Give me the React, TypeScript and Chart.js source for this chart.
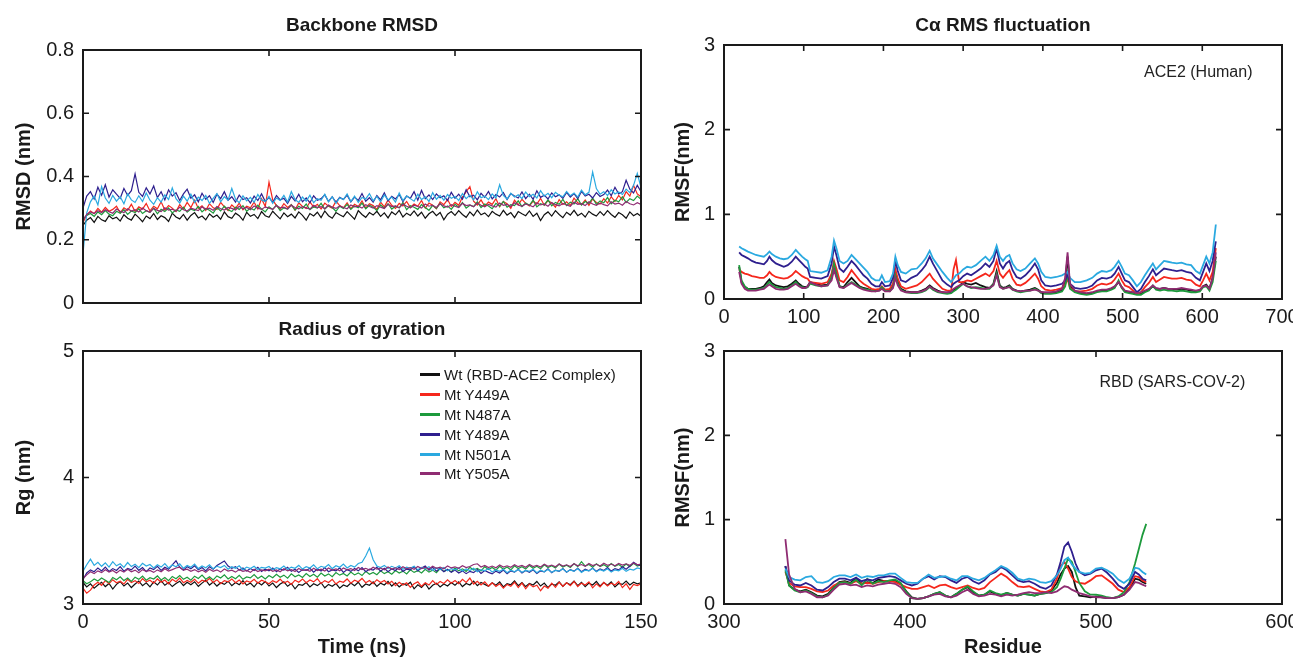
import React, { useEffect, useRef } from 'react';
import { Chart, registerables } from 'chart.js';

Chart.register(...registerables);

const FONT = "'Liberation Sans', Arial, Helvetica, sans-serif";
const INK = '#1a1a1a';

const SERIES_NAMES = ['Wt (RBD-ACE2 Complex)', 'Mt Y449A', 'Mt N487A', 'Mt Y489A', 'Mt N501A', 'Mt Y505A'];
const SERIES_COLORS = ['#111111', '#f5271c', '#1d9a3c', '#2e1f8e', '#2aa9e0', '#8f2c72'];

// ---------- Time axis (ns) ----------
const TIME_NS = [0,1,2,3,4,5,6,7,8,9,10,11,12,13,14,15,16,17,18,19,
20,21,22,23,24,25,26,27,28,29,30,31,32,33,34,35,36,37,38,39,
40,41,42,43,44,45,46,47,48,49,50,51,52,53,54,55,56,57,58,59,
60,61,62,63,64,65,66,67,68,69,70,71,72,73,74,75,76,77,78,79,
80,81,82,83,84,85,86,87,88,89,90,91,92,93,94,95,96,97,98,99,
100,101,102,103,104,105,106,107,108,109,110,111,112,113,114,115,116,117,118,119,
120,121,122,123,124,125,126,127,128,129,130,131,132,133,134,135,136,137,138,139,
140,141,142,143,144,145,146,147,148,149,150];

// ---------- Backbone RMSD (nm) ----------
const RMSD_WT = [0.245,0.262,0.270,0.255,0.274,0.263,0.258,0.276,0.266,0.271,
0.259,0.279,0.268,0.262,0.281,0.270,0.257,0.275,0.267,0.283,
0.264,0.276,0.270,0.258,0.284,0.272,0.266,0.280,0.262,0.277,
0.286,0.269,0.275,0.263,0.282,0.271,0.278,0.265,0.288,0.273,
0.268,0.284,0.276,0.262,0.287,0.274,0.280,0.267,0.289,0.276,
0.271,0.290,0.278,0.266,0.285,0.273,0.281,0.269,0.288,0.277,
0.262,0.283,0.275,0.287,0.270,0.291,0.276,0.268,0.286,0.279,
0.273,0.289,0.277,0.265,0.292,0.280,0.271,0.286,0.278,0.290,
0.274,0.285,0.269,0.288,0.279,0.293,0.272,0.284,0.277,0.291,
0.275,0.287,0.268,0.282,0.290,0.276,0.286,0.263,0.281,0.289,
0.277,0.292,0.280,0.271,0.288,0.276,0.294,0.279,0.285,0.273,
0.290,0.281,0.275,0.293,0.278,0.286,0.270,0.289,0.282,0.276,
0.291,0.274,0.284,0.261,0.279,0.288,0.275,0.292,0.280,0.270,
0.287,0.278,0.293,0.276,0.284,0.272,0.290,0.281,0.275,0.289,
0.277,0.292,0.280,0.271,0.286,0.279,0.268,0.288,0.276,0.283,
0.274];
const RMSD_Y449A = [0.255,0.278,0.291,0.283,0.299,0.287,0.302,0.290,0.296,0.306,
0.285,0.301,0.293,0.312,0.289,0.304,0.297,0.315,0.291,0.306,
0.298,0.320,0.294,0.308,0.300,0.289,0.311,0.297,0.318,0.302,
0.325,0.299,0.307,0.293,0.314,0.301,0.296,0.318,0.304,0.292,
0.310,0.299,0.316,0.295,0.306,0.301,0.319,0.297,0.330,0.305,
0.382,0.326,0.308,0.296,0.314,0.302,0.311,0.294,0.317,0.305,
0.299,0.320,0.303,0.312,0.297,0.316,0.306,0.300,0.322,0.308,
0.301,0.317,0.298,0.312,0.305,0.323,0.300,0.314,0.308,0.296,
0.319,0.304,0.326,0.309,0.299,0.315,0.307,0.321,0.302,0.313,
0.306,0.324,0.300,0.316,0.309,0.298,0.320,0.311,0.327,0.305,
0.318,0.309,0.335,0.352,0.368,0.322,0.310,0.326,0.306,0.319,
0.312,0.330,0.304,0.321,0.314,0.299,0.325,0.310,0.328,0.315,
0.307,0.322,0.313,0.331,0.309,0.324,0.316,0.303,0.327,0.312,
0.320,0.308,0.332,0.317,0.311,0.326,0.309,0.329,0.318,0.313,
0.330,0.316,0.336,0.321,0.340,0.326,0.352,0.338,0.372,0.345,
0.336];
const RMSD_N487A = [0.265,0.277,0.283,0.274,0.288,0.279,0.292,0.281,0.276,0.290,
0.284,0.295,0.280,0.291,0.286,0.298,0.283,0.292,0.287,0.300,
0.282,0.296,0.289,0.301,0.285,0.294,0.290,0.303,0.287,0.297,
0.292,0.305,0.288,0.299,0.293,0.284,0.302,0.291,0.306,0.295,
0.289,0.303,0.296,0.308,0.290,0.300,0.294,0.309,0.297,0.288,
0.304,0.296,0.310,0.292,0.301,0.297,0.311,0.294,0.306,0.299,
0.313,0.295,0.304,0.300,0.315,0.297,0.308,0.302,0.290,0.306,
0.299,0.312,0.296,0.307,0.301,0.316,0.298,0.309,0.303,0.292,
0.310,0.300,0.314,0.297,0.306,0.301,0.318,0.295,0.308,0.303,
0.296,0.311,0.302,0.293,0.309,0.299,0.315,0.301,0.307,0.296,
0.312,0.303,0.318,0.300,0.309,0.305,0.320,0.302,0.313,0.307,
0.298,0.315,0.306,0.321,0.303,0.311,0.308,0.323,0.305,0.316,
0.309,0.325,0.304,0.314,0.310,0.326,0.307,0.318,0.312,0.328,
0.308,0.319,0.313,0.330,0.310,0.321,0.315,0.332,0.312,0.323,
0.317,0.334,0.314,0.325,0.320,0.336,0.318,0.330,0.324,0.338,
0.328];
const RMSD_Y489A = [0.300,0.338,0.352,0.329,0.366,0.341,0.374,0.335,0.358,0.344,
0.331,0.362,0.340,0.355,0.408,0.350,0.337,0.364,0.345,0.370,
0.333,0.352,0.326,0.358,0.338,0.349,0.324,0.345,0.360,0.331,
0.342,0.320,0.347,0.328,0.339,0.318,0.344,0.330,0.352,0.325,
0.336,0.319,0.341,0.327,0.333,0.316,0.338,0.324,0.345,0.321,
0.334,0.318,0.340,0.326,0.331,0.315,0.337,0.323,0.344,0.320,
0.332,0.317,0.339,0.325,0.330,0.342,0.321,0.336,0.318,0.334,
0.327,0.341,0.320,0.335,0.324,0.346,0.322,0.333,0.319,0.340,
0.326,0.348,0.323,0.337,0.329,0.343,0.321,0.338,0.331,0.352,
0.325,0.356,0.330,0.342,0.327,0.345,0.333,0.339,0.324,0.350,
0.331,0.344,0.328,0.358,0.336,0.341,0.326,0.347,0.334,0.353,
0.329,0.343,0.335,0.349,0.327,0.346,0.338,0.332,0.351,0.330,
0.344,0.328,0.355,0.334,0.341,0.329,0.348,0.336,0.342,0.331,
0.350,0.335,0.346,0.330,0.353,0.338,0.344,0.332,0.349,0.337,
0.343,0.357,0.339,0.366,0.345,0.352,0.388,0.360,0.348,0.372,
0.352];
const RMSD_N501A = [0.155,0.285,0.320,0.338,0.310,0.368,0.332,0.315,0.340,0.322,
0.336,0.314,0.345,0.326,0.318,0.339,0.321,0.348,0.325,0.312,
0.333,0.319,0.342,0.327,0.364,0.330,0.316,0.338,0.322,0.344,
0.318,0.335,0.324,0.340,0.315,0.331,0.346,0.320,0.336,0.325,
0.362,0.328,0.317,0.339,0.323,0.334,0.318,0.343,0.326,0.321,
0.337,0.315,0.332,0.324,0.340,0.319,0.352,0.327,0.318,0.335,
0.322,0.341,0.317,0.330,0.325,0.344,0.320,0.336,0.315,0.333,
0.327,0.345,0.321,0.338,0.318,0.334,0.329,0.346,0.323,0.337,
0.320,0.342,0.326,0.335,0.319,0.348,0.324,0.339,0.330,0.322,
0.344,0.327,0.336,0.321,0.349,0.328,0.340,0.325,0.343,0.331,
0.337,0.324,0.346,0.330,0.341,0.326,0.352,0.333,0.338,0.327,
0.345,0.332,0.374,0.340,0.329,0.347,0.335,0.342,0.330,0.351,
0.336,0.344,0.332,0.355,0.338,0.347,0.333,0.350,0.341,0.336,
0.353,0.339,0.348,0.335,0.357,0.342,0.350,0.414,0.362,0.344,
0.352,0.340,0.358,0.345,0.351,0.343,0.360,0.349,0.372,0.410,
0.365];
const RMSD_Y505A = [0.262,0.280,0.288,0.283,0.292,0.286,0.295,0.289,0.284,0.297,
0.290,0.286,0.298,0.291,0.295,0.288,0.300,0.292,0.287,0.299,
0.293,0.289,0.301,0.294,0.297,0.290,0.303,0.295,0.291,0.300,
0.296,0.292,0.304,0.297,0.300,0.293,0.305,0.298,0.294,0.302,
0.299,0.294,0.306,0.298,0.302,0.295,0.307,0.300,0.296,0.304,
0.300,0.296,0.308,0.301,0.303,0.297,0.309,0.302,0.298,0.305,
0.301,0.297,0.309,0.302,0.305,0.298,0.310,0.303,0.299,0.307,
0.302,0.298,0.310,0.304,0.306,0.300,0.311,0.305,0.300,0.308,
0.303,0.299,0.312,0.305,0.307,0.301,0.313,0.306,0.301,0.309,
0.305,0.300,0.313,0.306,0.309,0.302,0.314,0.307,0.303,0.311,
0.306,0.302,0.315,0.308,0.310,0.304,0.316,0.309,0.304,0.312,
0.307,0.303,0.316,0.309,0.312,0.305,0.317,0.310,0.306,0.313,
0.309,0.304,0.317,0.310,0.313,0.306,0.318,0.311,0.307,0.315,
0.310,0.306,0.319,0.312,0.314,0.308,0.320,0.313,0.309,0.316,
0.311,0.307,0.320,0.313,0.316,0.309,0.321,0.314,0.310,0.317,
0.312];

// ---------- Radius of gyration (nm) ----------
const RG_WT = [3.170,3.135,3.160,3.125,3.150,3.172,3.138,3.162,3.118,3.155,
3.178,3.142,3.165,3.130,3.158,3.182,3.145,3.168,3.135,3.175,
3.150,3.185,3.148,3.170,3.138,3.162,3.180,3.146,3.172,3.152,
3.176,3.140,3.165,3.188,3.150,3.174,3.142,3.168,3.155,3.180,
3.145,3.170,3.152,3.184,3.148,3.166,3.135,3.172,3.150,3.178,
3.142,3.165,3.130,3.158,3.175,3.140,3.162,3.120,3.155,3.148,
3.170,3.135,3.160,3.145,3.168,3.128,3.155,3.140,3.162,3.125,
3.150,3.138,3.166,3.145,3.172,3.132,3.158,3.148,3.175,3.140,
3.165,3.150,3.178,3.142,3.168,3.135,3.160,3.148,3.172,3.120,
3.152,3.130,3.162,3.118,3.148,3.165,3.135,3.158,3.142,3.170,
3.148,3.175,3.138,3.162,3.150,3.180,3.145,3.170,3.155,3.140,
3.168,3.148,3.175,3.135,3.160,3.152,3.182,3.145,3.170,3.138,
3.162,3.150,3.178,3.142,3.165,3.130,3.158,3.148,3.175,3.140,
3.168,3.152,3.180,3.145,3.172,3.138,3.165,3.150,3.178,3.142,
3.170,3.148,3.175,3.135,3.162,3.155,3.182,3.150,3.172,3.160,
3.168];
const RG_Y449A = [3.125,3.085,3.110,3.150,3.172,3.148,3.185,3.160,3.192,3.168,
3.180,3.158,3.195,3.170,3.185,3.162,3.200,3.175,3.188,3.165,
3.198,3.172,3.190,3.160,3.195,3.176,3.205,3.168,3.186,3.172,
3.196,3.165,3.188,3.178,3.202,3.170,3.192,3.160,3.185,3.175,
3.198,3.168,3.190,3.158,3.182,3.172,3.195,3.165,3.188,3.176,
3.160,3.185,3.170,3.196,3.165,3.180,3.155,3.188,3.172,3.198,
3.168,3.190,3.175,3.200,3.162,3.185,3.170,3.195,3.158,3.180,
3.172,3.198,3.165,3.188,3.176,3.202,3.168,3.185,3.160,3.192,
3.170,3.186,3.158,3.180,3.145,3.172,3.150,3.168,3.132,3.160,
3.175,3.140,3.168,3.150,3.185,3.155,3.178,3.162,3.192,3.165,
3.185,3.160,3.195,3.170,3.205,3.158,3.180,3.150,3.175,3.142,
3.168,3.138,3.160,3.125,3.155,3.140,3.172,3.130,3.165,3.120,
3.158,3.135,3.148,3.105,3.142,3.125,3.165,3.132,3.172,3.140,
3.168,3.145,3.178,3.138,3.165,3.150,3.175,3.128,3.160,3.135,
3.170,3.142,3.165,3.150,3.178,3.130,3.160,3.115,3.155,3.145,
3.160];
const RG_N487A = [3.185,3.160,3.175,3.198,3.182,3.205,3.188,3.170,3.210,3.192,
3.215,3.185,3.205,3.178,3.212,3.195,3.220,3.188,3.208,3.198,
3.222,3.190,3.210,3.185,3.218,3.200,3.225,3.195,3.212,3.188,
3.220,3.202,3.228,3.196,3.215,3.190,3.222,3.205,3.230,3.198,
3.218,3.200,3.226,3.195,3.214,3.206,3.232,3.202,3.222,3.198,
3.225,3.208,3.235,3.212,3.228,3.204,3.238,3.215,3.230,3.210,
3.240,3.218,3.235,3.212,3.245,3.222,3.238,3.216,3.248,3.228,
3.242,3.222,3.252,3.230,3.246,3.225,3.258,3.235,3.250,3.232,
3.262,3.240,3.255,3.236,3.265,3.245,3.260,3.238,3.270,3.250,
3.264,3.245,3.275,3.252,3.268,3.248,3.280,3.258,3.272,3.255,
3.285,3.262,3.278,3.258,3.290,3.268,3.282,3.262,3.295,3.272,
3.288,3.268,3.298,3.275,3.292,3.270,3.302,3.280,3.295,3.276,
3.305,3.282,3.298,3.278,3.310,3.288,3.302,3.284,3.315,3.292,
3.306,3.288,3.320,3.295,3.335,3.300,3.312,3.290,3.318,3.296,
3.310,3.292,3.320,3.298,3.312,3.290,3.316,3.295,3.322,3.300,
3.310];
const RG_Y489A = [3.195,3.245,3.270,3.255,3.285,3.262,3.292,3.258,3.280,3.265,
3.295,3.260,3.282,3.270,3.300,3.266,3.288,3.255,3.285,3.272,
3.298,3.265,3.290,3.275,3.310,3.342,3.290,3.268,3.295,3.278,
3.302,3.270,3.288,3.262,3.295,3.275,3.305,3.322,3.340,3.300,
3.282,3.295,3.268,3.285,3.260,3.280,3.265,3.290,3.258,3.276,
3.262,3.285,3.255,3.278,3.268,3.290,3.258,3.275,3.250,3.272,
3.265,3.282,3.252,3.276,3.260,3.288,3.255,3.270,3.262,3.285,
3.250,3.272,3.258,3.280,3.262,3.288,3.255,3.275,3.268,3.290,
3.260,3.282,3.255,3.278,3.265,3.292,3.258,3.276,3.270,3.295,
3.262,3.285,3.300,3.268,3.290,3.260,3.282,3.255,3.275,3.250,
3.268,3.245,3.262,3.240,3.258,3.248,3.272,3.242,3.265,3.250,
3.238,3.260,3.245,3.268,3.240,3.262,3.252,3.275,3.245,3.265,
3.250,3.270,3.242,3.262,3.255,3.278,3.248,3.268,3.258,3.280,
3.252,3.272,3.260,3.282,3.255,3.275,3.262,3.285,3.258,3.278,
3.265,3.288,3.260,3.280,3.270,3.295,3.275,3.300,3.330,3.310,
3.305];
const RG_N501A = [3.260,3.310,3.355,3.305,3.330,3.298,3.325,3.292,3.335,3.302,
3.318,3.290,3.328,3.296,3.315,3.288,3.322,3.300,3.312,3.285,
3.310,3.292,3.320,3.285,3.308,3.295,3.318,3.282,3.305,3.290,
3.315,3.280,3.300,3.286,3.310,3.278,3.298,3.288,3.305,3.275,
3.295,3.282,3.302,3.270,3.292,3.280,3.298,3.272,3.290,3.284,
3.296,3.270,3.288,3.278,3.300,3.272,3.292,3.282,3.305,3.276,
3.295,3.285,3.310,3.278,3.298,3.288,3.312,3.280,3.302,3.290,
3.315,3.285,3.305,3.292,3.320,3.330,3.380,3.442,3.350,3.300,
3.288,3.305,3.280,3.298,3.285,3.302,3.275,3.292,3.282,3.298,
3.270,3.290,3.278,3.295,3.265,3.285,3.272,3.288,3.262,3.280,
3.270,3.285,3.260,3.278,3.265,3.282,3.255,3.272,3.262,3.280,
3.252,3.270,3.258,3.275,3.248,3.268,3.255,3.272,3.250,3.265,
3.258,3.275,3.248,3.268,3.255,3.272,3.250,3.265,3.260,3.278,
3.252,3.270,3.258,3.280,3.250,3.268,3.262,3.282,3.255,3.272,
3.260,3.278,3.252,3.270,3.262,3.282,3.258,3.275,3.268,3.285,
3.278];
const RG_Y505A = [3.200,3.230,3.255,3.240,3.262,3.248,3.270,3.252,3.265,3.245,
3.268,3.252,3.275,3.255,3.268,3.248,3.272,3.258,3.266,3.250,
3.270,3.255,3.278,3.260,3.272,3.285,3.292,3.268,3.275,3.258,
3.272,3.255,3.268,3.250,3.275,3.258,3.270,3.252,3.276,3.260,
3.268,3.252,3.272,3.258,3.265,3.250,3.274,3.256,3.270,3.262,
3.276,3.258,3.270,3.255,3.278,3.262,3.272,3.256,3.280,3.265,
3.272,3.258,3.282,3.265,3.275,3.260,3.285,3.268,3.278,3.262,
3.285,3.270,3.280,3.265,3.288,3.272,3.282,3.268,3.290,3.275,
3.284,3.270,3.292,3.276,3.286,3.272,3.295,3.278,3.288,3.274,
3.296,3.280,3.290,3.276,3.298,3.282,3.292,3.278,3.300,3.285,
3.294,3.282,3.302,3.288,3.296,3.312,3.318,3.292,3.305,3.288,
3.300,3.286,3.308,3.292,3.302,3.290,3.310,3.295,3.305,3.290,
3.312,3.296,3.306,3.292,3.315,3.298,3.308,3.294,3.316,3.300,
3.310,3.296,3.318,3.302,3.312,3.298,3.320,3.304,3.314,3.300,
3.322,3.306,3.316,3.302,3.320,3.308,3.318,3.305,3.324,3.310,
3.316];

// ---------- C-alpha RMSF, ACE2 (Human) ----------
const ACE2_RES = [19,22,26,30,35,40,45,50,54,57,
60,65,70,75,80,85,90,94,98,102,
105,108,115,122,130,135,138,141,145,150,
155,160,165,170,175,180,185,190,195,198,
202,208,212,215,218,222,228,235,242,248,
253,258,262,268,274,280,285,288,291,295,
300,305,310,316,322,328,333,338,342,346,
350,354,358,362,367,372,378,384,390,394,
398,403,410,417,424,428,431,434,440,447,
455,462,468,474,480,486,490,495,499,503,
508,513,518,523,528,533,538,542,547,552,
557,562,568,574,580,586,592,597,601,605,
609,613,617];
const ACE2_WT = [0.38,0.20,0.14,0.12,0.12,0.12,0.13,0.15,0.20,0.23,
0.19,0.16,0.15,0.14,0.15,0.18,0.22,0.18,0.15,0.14,
0.15,0.20,0.18,0.16,0.17,0.25,0.38,0.28,0.15,0.14,
0.20,0.25,0.20,0.15,0.13,0.12,0.10,0.10,0.11,0.13,
0.10,0.10,0.15,0.30,0.20,0.12,0.09,0.08,0.08,0.10,
0.12,0.16,0.13,0.10,0.08,0.07,0.08,0.10,0.12,0.15,
0.20,0.18,0.17,0.19,0.16,0.14,0.13,0.18,0.33,0.16,
0.13,0.14,0.16,0.12,0.10,0.09,0.10,0.11,0.13,0.11,
0.08,0.07,0.07,0.08,0.10,0.20,0.50,0.15,0.09,0.07,
0.06,0.07,0.09,0.10,0.10,0.12,0.14,0.20,0.14,0.09,
0.08,0.07,0.06,0.06,0.09,0.11,0.15,0.12,0.12,0.13,
0.12,0.12,0.11,0.12,0.11,0.10,0.09,0.10,0.15,0.17,
0.12,0.25,0.50];
const ACE2_Y449A = [0.35,0.32,0.30,0.29,0.27,0.26,0.25,0.25,0.28,0.32,
0.29,0.26,0.25,0.24,0.25,0.28,0.33,0.30,0.27,0.25,
0.24,0.20,0.19,0.18,0.20,0.30,0.45,0.36,0.22,0.20,
0.26,0.34,0.28,0.22,0.18,0.15,0.12,0.11,0.12,0.15,
0.11,0.12,0.18,0.35,0.24,0.15,0.12,0.14,0.16,0.20,
0.25,0.30,0.24,0.18,0.12,0.10,0.10,0.35,0.46,0.20,
0.20,0.22,0.21,0.24,0.27,0.30,0.27,0.33,0.45,0.30,
0.25,0.30,0.34,0.24,0.17,0.16,0.19,0.24,0.30,0.24,
0.15,0.11,0.10,0.11,0.13,0.17,0.24,0.13,0.09,0.09,
0.10,0.12,0.16,0.18,0.17,0.19,0.23,0.30,0.22,0.16,
0.14,0.10,0.06,0.08,0.14,0.19,0.26,0.20,0.23,0.26,
0.25,0.24,0.24,0.25,0.23,0.22,0.17,0.15,0.22,0.30,
0.22,0.32,0.60];
const ACE2_N487A = [0.40,0.22,0.15,0.12,0.11,0.11,0.12,0.13,0.17,0.20,
0.17,0.14,0.13,0.12,0.13,0.16,0.20,0.16,0.14,0.13,
0.14,0.18,0.16,0.15,0.16,0.26,0.42,0.30,0.15,0.13,
0.17,0.20,0.17,0.14,0.12,0.11,0.10,0.09,0.10,0.14,
0.10,0.09,0.14,0.28,0.18,0.11,0.08,0.07,0.07,0.08,
0.10,0.14,0.11,0.08,0.07,0.06,0.07,0.09,0.11,0.14,
0.18,0.15,0.13,0.14,0.13,0.12,0.12,0.17,0.30,0.15,
0.12,0.13,0.15,0.11,0.09,0.08,0.09,0.10,0.12,0.10,
0.07,0.06,0.06,0.07,0.09,0.15,0.30,0.12,0.08,0.06,
0.05,0.06,0.08,0.09,0.09,0.11,0.13,0.22,0.13,0.08,
0.07,0.06,0.05,0.05,0.08,0.10,0.16,0.11,0.10,0.11,
0.10,0.10,0.09,0.10,0.09,0.08,0.08,0.09,0.14,0.15,
0.10,0.20,0.45];
const ACE2_Y489A = [0.55,0.52,0.50,0.48,0.45,0.43,0.42,0.41,0.45,0.50,
0.46,0.42,0.40,0.38,0.40,0.44,0.50,0.46,0.42,0.38,
0.36,0.26,0.25,0.24,0.27,0.42,0.62,0.52,0.36,0.32,
0.38,0.45,0.40,0.34,0.28,0.24,0.18,0.15,0.15,0.20,
0.15,0.16,0.25,0.45,0.33,0.22,0.20,0.25,0.28,0.34,
0.40,0.50,0.42,0.32,0.22,0.17,0.14,0.18,0.20,0.22,
0.27,0.30,0.28,0.32,0.36,0.42,0.38,0.45,0.60,0.42,
0.36,0.42,0.45,0.34,0.26,0.24,0.28,0.34,0.42,0.35,
0.22,0.16,0.15,0.16,0.18,0.22,0.30,0.18,0.13,0.12,
0.13,0.16,0.22,0.25,0.24,0.26,0.30,0.38,0.30,0.22,
0.20,0.14,0.08,0.12,0.20,0.27,0.35,0.28,0.32,0.36,
0.35,0.34,0.33,0.34,0.32,0.31,0.25,0.22,0.32,0.42,
0.33,0.45,0.68];
const ACE2_N501A = [0.62,0.60,0.58,0.56,0.54,0.52,0.51,0.50,0.53,0.56,
0.53,0.50,0.48,0.47,0.48,0.52,0.58,0.54,0.50,0.47,
0.45,0.33,0.32,0.31,0.34,0.50,0.69,0.60,0.45,0.42,
0.45,0.52,0.47,0.42,0.37,0.32,0.25,0.22,0.22,0.28,
0.20,0.21,0.30,0.50,0.40,0.32,0.30,0.35,0.36,0.42,
0.48,0.57,0.48,0.40,0.32,0.25,0.20,0.24,0.28,0.30,
0.35,0.38,0.37,0.40,0.45,0.50,0.45,0.52,0.63,0.50,
0.45,0.50,0.52,0.42,0.35,0.33,0.36,0.42,0.48,0.42,
0.32,0.26,0.25,0.26,0.28,0.30,0.32,0.25,0.20,0.20,
0.22,0.25,0.30,0.33,0.32,0.34,0.38,0.45,0.38,0.30,
0.28,0.22,0.15,0.20,0.28,0.35,0.42,0.35,0.40,0.45,
0.44,0.43,0.42,0.43,0.41,0.40,0.33,0.30,0.40,0.50,
0.42,0.55,0.88];
const ACE2_Y505A = [0.32,0.18,0.12,0.10,0.10,0.10,0.11,0.12,0.15,0.17,
0.15,0.12,0.11,0.11,0.12,0.15,0.18,0.15,0.13,0.13,
0.15,0.20,0.17,0.15,0.16,0.22,0.35,0.25,0.14,0.13,
0.16,0.19,0.16,0.13,0.11,0.10,0.09,0.09,0.10,0.12,
0.09,0.09,0.13,0.25,0.16,0.10,0.08,0.08,0.08,0.09,
0.11,0.15,0.12,0.09,0.08,0.08,0.09,0.12,0.14,0.16,
0.18,0.15,0.14,0.13,0.12,0.12,0.13,0.16,0.28,0.14,
0.12,0.13,0.14,0.11,0.10,0.09,0.10,0.10,0.11,0.10,
0.08,0.08,0.08,0.09,0.12,0.25,0.55,0.18,0.10,0.08,
0.07,0.08,0.10,0.11,0.11,0.13,0.15,0.20,0.14,0.10,
0.09,0.08,0.07,0.08,0.10,0.12,0.16,0.13,0.12,0.13,
0.12,0.12,0.12,0.13,0.12,0.11,0.10,0.11,0.15,0.16,
0.12,0.25,0.55];

// ---------- C-alpha RMSF, RBD (SARS-COV-2) ----------
const RBD_RES = [333,335,338,341,344,347,350,353,356,359,
362,365,368,371,374,377,380,383,386,389,
392,395,398,401,404,407,410,413,416,419,
422,425,428,431,434,437,440,443,446,449,
452,455,458,461,464,467,470,473,476,479,
481,483,485,487,489,491,494,497,500,503,
506,509,512,515,518,521,523,525,527];
const RBD_WT = [0.45,0.22,0.17,0.15,0.17,0.14,0.10,0.09,0.12,0.20,
0.26,0.27,0.25,0.31,0.24,0.26,0.25,0.29,0.27,0.27,
0.28,0.24,0.15,0.08,0.06,0.07,0.09,0.12,0.14,0.10,
0.08,0.12,0.17,0.20,0.14,0.10,0.11,0.15,0.12,0.10,
0.13,0.11,0.10,0.12,0.11,0.10,0.12,0.13,0.16,0.25,
0.35,0.42,0.45,0.38,0.20,0.10,0.09,0.08,0.09,0.08,
0.07,0.07,0.08,0.11,0.18,0.30,0.29,0.26,0.24];
const RBD_Y449A = [0.38,0.25,0.21,0.20,0.20,0.18,0.15,0.14,0.16,0.22,
0.25,0.26,0.24,0.27,0.24,0.25,0.24,0.26,0.27,0.27,
0.26,0.23,0.20,0.18,0.18,0.20,0.22,0.19,0.22,0.23,
0.20,0.18,0.20,0.22,0.19,0.17,0.19,0.26,0.31,0.36,
0.32,0.26,0.21,0.20,0.21,0.18,0.15,0.14,0.17,0.30,
0.45,0.50,0.42,0.32,0.27,0.25,0.24,0.28,0.33,0.34,
0.29,0.24,0.17,0.14,0.20,0.33,0.32,0.28,0.26];
const RBD_N487A = [0.40,0.22,0.16,0.14,0.16,0.13,0.09,0.08,0.11,0.19,
0.25,0.26,0.24,0.29,0.22,0.30,0.24,0.27,0.26,0.28,
0.29,0.25,0.14,0.07,0.06,0.07,0.09,0.12,0.14,0.10,
0.08,0.12,0.17,0.21,0.15,0.10,0.11,0.16,0.13,0.11,
0.13,0.11,0.10,0.12,0.11,0.10,0.12,0.13,0.14,0.20,
0.30,0.42,0.54,0.50,0.38,0.25,0.15,0.11,0.11,0.10,
0.08,0.07,0.09,0.14,0.26,0.48,0.65,0.82,0.95];
const RBD_Y489A = [0.45,0.28,0.23,0.22,0.25,0.22,0.17,0.16,0.20,0.26,
0.30,0.30,0.28,0.31,0.27,0.29,0.28,0.31,0.32,0.33,
0.32,0.28,0.24,0.22,0.24,0.30,0.33,0.29,0.33,0.32,
0.28,0.25,0.30,0.32,0.27,0.24,0.28,0.35,0.38,0.44,
0.40,0.34,0.28,0.26,0.27,0.24,0.20,0.18,0.22,0.35,
0.50,0.68,0.73,0.62,0.48,0.38,0.34,0.36,0.40,0.42,
0.37,0.30,0.22,0.18,0.24,0.38,0.35,0.30,0.28];
const RBD_N501A = [0.42,0.32,0.29,0.28,0.32,0.33,0.26,0.25,0.27,0.32,
0.34,0.34,0.32,0.35,0.31,0.33,0.32,0.34,0.34,0.36,
0.36,0.31,0.26,0.25,0.25,0.30,0.35,0.31,0.32,0.33,
0.30,0.28,0.33,0.33,0.30,0.28,0.31,0.36,0.40,0.45,
0.42,0.37,0.30,0.28,0.30,0.29,0.26,0.25,0.27,0.34,
0.42,0.52,0.55,0.47,0.42,0.38,0.36,0.37,0.42,0.43,
0.40,0.36,0.29,0.25,0.30,0.43,0.42,0.38,0.35];
const RBD_Y505A = [0.77,0.35,0.18,0.14,0.15,0.12,0.08,0.08,0.10,0.17,
0.23,0.24,0.22,0.23,0.20,0.22,0.21,0.23,0.24,0.25,
0.24,0.20,0.12,0.07,0.06,0.07,0.09,0.11,0.12,0.09,
0.08,0.10,0.14,0.17,0.12,0.09,0.10,0.12,0.11,0.09,
0.11,0.10,0.11,0.13,0.14,0.13,0.13,0.14,0.13,0.15,
0.18,0.21,0.20,0.17,0.15,0.13,0.11,0.09,0.08,0.08,
0.07,0.07,0.08,0.11,0.17,0.26,0.25,0.23,0.21];

// ---------- Axis ticks ----------
const TIME_TICKS = { min: 0, max: 150, step: 50 };
const RMSD_TICKS = { min: 0, max: 0.8, step: 0.2 };
const RG_TICKS = { min: 3, max: 5, step: 1 };
const ACE2_X_TICKS = { min: 0, max: 700, step: 100 };
const RBD_X_TICKS = { min: 300, max: 600, step: 100 };
const RMSF_TICKS = { min: 0, max: 3, step: 1 };

const framePlugin = {
  id: 'boxFrame',
  afterDatasetsDraw(chart: any) {
    const { ctx, chartArea, scales } = chart;
    const { left, right, top, bottom } = chartArea;
    const L = 6;
    ctx.save();
    ctx.strokeStyle = INK;
    ctx.lineWidth = 1.6;
    ctx.beginPath();
    for (const t of scales.x.ticks) {
      const p = scales.x.getPixelForValue(t.value);
      if (p <= left + 1 || p >= right - 1) continue;
      ctx.moveTo(p, bottom); ctx.lineTo(p, bottom - L);
      ctx.moveTo(p, top); ctx.lineTo(p, top + L);
    }
    for (const t of scales.y.ticks) {
      const p = scales.y.getPixelForValue(t.value);
      if (p <= top + 1 || p >= bottom - 1) continue;
      ctx.moveTo(left, p); ctx.lineTo(left + L, p);
      ctx.moveTo(right, p); ctx.lineTo(right - L, p);
    }
    ctx.stroke();
    ctx.lineWidth = 2;
    ctx.strokeRect(left, top, right - left, bottom - top);
    ctx.restore();
  },
};

type Ticks = { min: number; max: number; step: number };
type PanelSpec = {
  w: number; h: number;
  title?: string; titlePadTop?: number; titlePadBottom?: number;
  padTop: number; padRight: number;
  yWidth: number; xHeight: number;
  xs: number[]; series: number[][];
  xt: Ticks; yt: Ticks;
  showXLabels: boolean;
  xTitle?: string; yTitle: string; yTitlePad: number;
  lineWidth: number; yDecimals: number;
};

function clearPadding(sc: any) {
  sc.paddingLeft = 0;
  sc.paddingRight = 0;
  sc.paddingTop = 0;
  sc.paddingBottom = 0;
}

function buildConfig(s: PanelSpec): any {
  const datasets = s.series.map((ys, i) => ({
    label: SERIES_NAMES[i],
    data: s.xs.map((x, j) => ({ x, y: ys[j] })),
    borderColor: SERIES_COLORS[i],
    backgroundColor: SERIES_COLORS[i],
    borderWidth: s.lineWidth,
    pointRadius: 0,
    tension: 0,
    fill: false,
    order: s.series.length - i,
  }));
  const tickFont = { family: FONT, size: 20, lineHeight: 1 };
  const axisTitleFont = { family: FONT, size: 20, weight: 'bold', lineHeight: 1 };
  return {
    type: 'line',
    data: { datasets },
    options: {
      responsive: false,
      animation: false,
      devicePixelRatio: 1,
      events: [],
      layout: { padding: { top: s.padTop, right: s.padRight, bottom: 0, left: 0 }, autoPadding: false },
      plugins: {
        legend: { display: false },
        tooltip: { enabled: false },
        title: s.title
          ? {
              display: true, text: s.title, fullSize: false, color: INK,
              font: { family: FONT, size: 19, weight: 'bold', lineHeight: 1 },
              padding: { top: s.titlePadTop, bottom: s.titlePadBottom },
            }
          : { display: false },
      },
      scales: {
        x: {
          type: 'linear',
          min: s.xt.min, max: s.xt.max,
          grid: { display: false, drawTicks: false },
          border: { display: false },
          ticks: {
            display: s.showXLabels, stepSize: s.xt.step, padding: 8, color: INK, font: tickFont,
            maxRotation: 0, autoSkip: false,
            callback: (v: any) => String(Math.round(Number(v))),
          },
          title: s.xTitle
            ? { display: true, text: s.xTitle, color: INK, font: axisTitleFont, padding: { top: 0, bottom: 0 } }
            : { display: false },
          afterFit: (sc: any) => { sc.height = s.xHeight; clearPadding(sc); },
        },
        y: {
          type: 'linear',
          min: s.yt.min, max: s.yt.max,
          grid: { display: false, drawTicks: false },
          border: { display: false },
          ticks: {
            stepSize: s.yt.step, padding: 9, color: INK, font: tickFont,
            callback: (v: any) => (Math.abs(Number(v)) < 1e-9 ? '0' : Number(v).toFixed(s.yDecimals)),
          },
          title: { display: true, text: s.yTitle, color: INK, font: axisTitleFont, padding: { top: s.yTitlePad, bottom: 0 } },
          afterFit: (sc: any) => { sc.width = s.yWidth; clearPadding(sc); },
        },
      },
    },
    plugins: [framePlugin],
  };
}

function ChartPanel({ spec, left, top }: { spec: PanelSpec; left: number; top: number }) {
  const ref = useRef<HTMLCanvasElement>(null);
  useEffect(() => {
    if (!ref.current) return;
    const chart = new Chart(ref.current, buildConfig(spec));
    return () => chart.destroy();
  }, []);
  return (
    <canvas
      ref={ref}
      width={spec.w}
      height={spec.h}
      style={{ position: 'absolute', left, top, width: spec.w, height: spec.h }}
    />
  );
}

const RMSD_SPEC: PanelSpec = {
  w: 660, h: 310, title: 'Backbone RMSD', titlePadTop: 16.5, titlePadBottom: 14.5,
  padTop: 0, padRight: 19, yWidth: 83, xHeight: 7,
  xs: TIME_NS, series: [RMSD_WT, RMSD_Y449A, RMSD_N487A, RMSD_Y489A, RMSD_N501A, RMSD_Y505A],
  xt: TIME_TICKS, yt: RMSD_TICKS, showXLabels: false,
  yTitle: 'RMSD (nm)', yTitlePad: 14, lineWidth: 1.2, yDecimals: 1,
};
const RG_SPEC: PanelSpec = {
  w: 660, h: 347, title: 'Radius of gyration', titlePadTop: 10.5, titlePadBottom: 11.5,
  padTop: 0, padRight: 19, yWidth: 83, xHeight: 53,
  xs: TIME_NS, series: [RG_WT, RG_Y449A, RG_N487A, RG_Y489A, RG_N501A, RG_Y505A],
  xt: TIME_TICKS, yt: RG_TICKS, showXLabels: true, xTitle: 'Time (ns)',
  yTitle: 'Rg (nm)', yTitlePad: 14, lineWidth: 1.2, yDecimals: 0,
};
const ACE2_SPEC: PanelSpec = {
  w: 643, h: 340, title: 'Cα RMS fluctuation', titlePadTop: 16.5, titlePadBottom: 9.5,
  padTop: 0, padRight: 11, yWidth: 74, xHeight: 41,
  xs: ACE2_RES, series: [ACE2_WT, ACE2_Y449A, ACE2_N487A, ACE2_Y489A, ACE2_N501A, ACE2_Y505A],
  xt: ACE2_X_TICKS, yt: RMSF_TICKS, showXLabels: true,
  yTitle: 'RMSF(nm)', yTitlePad: 23, lineWidth: 1.8, yDecimals: 0,
};
const RBD_SPEC: PanelSpec = {
  w: 643, h: 317,
  padTop: 11, padRight: 11, yWidth: 74, xHeight: 53,
  xs: RBD_RES, series: [RBD_WT, RBD_Y449A, RBD_N487A, RBD_Y489A, RBD_N501A, RBD_Y505A],
  xt: RBD_X_TICKS, yt: RMSF_TICKS, showXLabels: true, xTitle: 'Residue',
  yTitle: 'RMSF(nm)', yTitlePad: 23, lineWidth: 1.8, yDecimals: 0,
};

export default function App() {
  return (
    <div
      style={{
        position: 'absolute', left: 0, top: 0, width: 1293, height: 657,
        background: '#ffffff', fontFamily: FONT, overflow: 'hidden',
      }}
    >
      <ChartPanel spec={RMSD_SPEC} left={0} top={0} />
      <ChartPanel spec={RG_SPEC} left={0} top={310} />
      <ChartPanel spec={ACE2_SPEC} left={650} top={0} />
      <ChartPanel spec={RBD_SPEC} left={650} top={340} />

      <div style={{ position: 'absolute', left: 420, top: 365, fontSize: 15, color: INK }}>
        {SERIES_NAMES.map((name, i) => (
          <div key={name} style={{ display: 'flex', alignItems: 'center', height: 19.8, whiteSpace: 'nowrap' }}>
            <span style={{ display: 'inline-block', width: 20, height: 3, background: SERIES_COLORS[i], marginRight: 4 }} />
            <span>{name}</span>
          </div>
        ))}
      </div>

      <div style={{ position: 'absolute', left: 1144, top: 62.7, fontSize: 16, lineHeight: '18px', color: '#222', whiteSpace: 'nowrap' }}>
        ACE2 (Human)
      </div>
      <div style={{ position: 'absolute', left: 1099.5, top: 372.7, fontSize: 16, lineHeight: '18px', color: '#222', whiteSpace: 'nowrap' }}>
        RBD (SARS-COV-2)
      </div>
    </div>
  );
}
